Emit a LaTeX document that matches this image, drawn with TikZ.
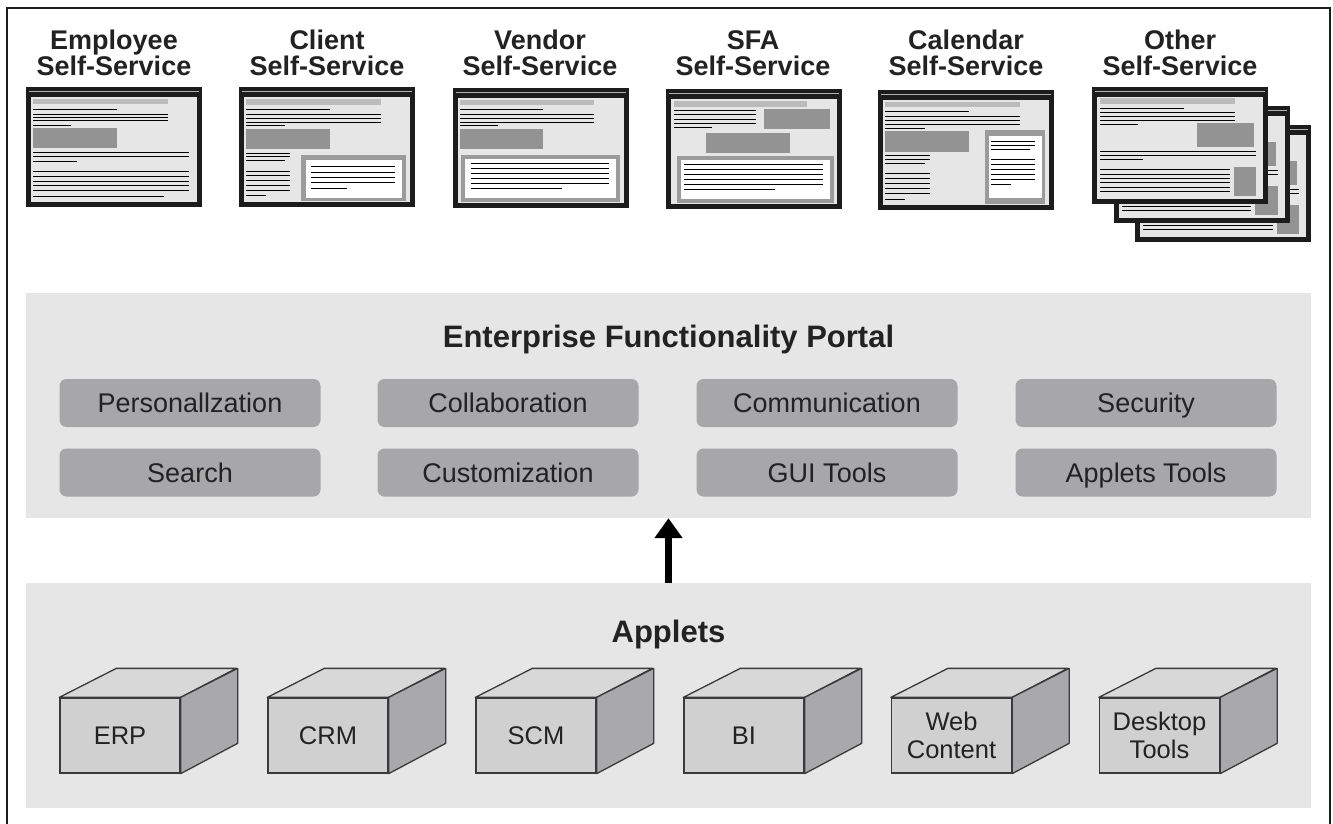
\documentclass[tikz,border=0pt]{standalone}
\usepackage{fontspec}
\setmainfont{Liberation Sans}
\usetikzlibrary{arrows.meta}

\definecolor{panel}{HTML}{E6E6E6}
\definecolor{itemgray}{HTML}{A7A7A9}
\definecolor{scrframe}{HTML}{1C1C1C}
\definecolor{scrin}{HTML}{E6E6E6}
\definecolor{scrbar}{HTML}{BBBBBB}
\definecolor{scrblk}{HTML}{939393}
\definecolor{scrinset}{HTML}{9B9B9B}
\definecolor{cubefront}{HTML}{D0D0D0}
\definecolor{cubetop}{HTML}{D8D8D8}
\definecolor{cubeside}{HTML}{A9A9AB}
\definecolor{cubeedge}{HTML}{3A3A3A}
\definecolor{txt}{HTML}{222222}

\newcommand{\scrln}[3]{\draw[scrline] (#1,#2) -- (#3,#2);}
\newcommand{\scrbase}[1]{%
  \fill[scrframe] (0,0) rectangle (176,#1);
  \fill[scrin] (5,10) rectangle (171,#1-5);
  \draw[gray!60,line width=0.8pt] (3,4.5) -- (173,4.5);}
\newcommand{\otherscreen}{%
  \scrbase{117}
  \fill[scrbar] (8.3,11) rectangle (143.3,16.7);
  \scrln{8.3}{21}{91.6}
  \foreach \yy in {25.3,29.3,33.3} {\scrln{8.3}{\yy}{143.3}}
  \scrln{8.3}{37.7}{46}
  \fill[scrblk] (105,36) rectangle (162.3,60.3);
  \scrln{8.3}{64.3}{164} \scrln{8.3}{68.3}{164}
  \scrln{8.3}{72}{51}
  \foreach \yy in {82.7,87.1,91.5,95.9,100.3,104.7} {\scrln{8.3}{\yy}{137.7}}
  \fill[scrblk] (141.7,80) rectangle (164,109.3);}

\tikzset{
  scrline/.style={line width=0.9pt, black},
  toptitle/.style={font=\fontsize{27}{26}\selectfont\bfseries, text=txt, align=center, inner sep=0pt, anchor=south},
  bigtitle/.style={font=\fontsize{31}{31}\selectfont\bfseries, text=txt, inner sep=0pt, anchor=base},
  panelbox/.style={fill=panel, draw=none, minimum width=1285pt, minimum height=225pt, inner sep=0pt},
  itembox/.style={fill=itemgray, rounded corners=7pt, minimum width=261pt, minimum height=48pt,
    font=\fontsize{27}{27}\selectfont, text=txt, text height=19.5pt, text depth=0pt, inner sep=0pt},
  cubebox/.style={fill=cubefront, draw=cubeedge, line width=1.3pt, minimum width=120pt, minimum height=75pt,
    font=\fontsize{25.5}{28}\selectfont, text=txt, align=center, inner sep=0pt},
  cubetopface/.style={fill=cubetop, draw=cubeedge, line width=1.3pt, line join=round},
  cubesideface/.style={fill=cubeside, draw=cubeedge, line width=1.3pt, line join=round},
  uparrow/.style={line width=7pt, -{Triangle[width=27pt,length=20pt]}, black}
}

\newcommand{\cube}[3]{% name, center x, text
  \node[cubebox] (#1) at (#2,735.5) {#3};
  \filldraw[cubetopface] (#1.north west) -- ++(57,-29) -- ++(120,0) -- (#1.north east) -- cycle;
  \filldraw[cubesideface] (#1.north east) -- ++(57,-29) -- ++(0,75) -- (#1.south east) -- cycle;}

\begin{document}
\begin{tikzpicture}[x=1pt,y=-1pt]
\useasboundingbox (0,0) rectangle (1333,824);
\fill[white] (0,0) rectangle (1333,824);
\draw[line width=2pt, scrframe] (7,830) -- (7,8) -- (1330,8) -- (1330,830);

% ---------- top titles ----------
\node[toptitle] (t1) at (114,76) {Employee\\Self-Service};
\node[toptitle] (t2) at (327,76) {Client\\Self-Service};
\node[toptitle] (t3) at (540,76) {Vendor\\Self-Service};
\node[toptitle] (t4) at (753,76) {SFA\\Self-Service};
\node[toptitle] (t5) at (966,76) {Calendar\\Self-Service};
\node[toptitle] (t6) at (1180,76) {Other\\Self-Service};

% ---------- Employee screen ----------
\begin{scope}[shift={(26,87)}]
  \scrbase{120}
  \fill[scrbar] (7,12) rectangle (142,17);
  \scrln{7}{22.3}{91}
  \foreach \yy in {27.3,30.5,33.7} {\scrln{7}{\yy}{142}}
  \scrln{7}{38}{45}
  \fill[scrblk] (7,41.3) rectangle (91,60.7);
  \scrln{7}{65.3}{163} \scrln{7}{69}{163}
  \scrln{7}{74}{51}
  \foreach \yy in {84,89,94,98.5,103} {\scrln{7}{\yy}{163}}
  \scrln{7}{109}{138}
\end{scope}

% ---------- Client screen ----------
\begin{scope}[shift={(239,87)}]
  \scrbase{120}
  \fill[scrbar] (7,12) rectangle (142,18);
  \scrln{7}{22}{91}
  \foreach \yy in {27,31,35.4} {\scrln{7}{\yy}{142}}
  \scrln{7}{38.7}{45.7}
  \fill[scrblk] (7,42) rectangle (91.4,62);
  \scrln{7}{66}{50.7} \scrln{7}{69.3}{50.7} \scrln{7}{73.7}{45.7}
  \foreach \yy in {84.3,88.7,93.7,98.7,103.3} {\scrln{7}{\yy}{50.7}}
  \scrln{7}{108.7}{27.3}
  \fill[scrinset] (62.4,68.3) rectangle (167.4,114.3);
  \fill[white] (66.7,72.7) rectangle (163,111);
  \foreach \yy in {79.3,85,90.3,95.3} {\scrln{72}{\yy}{155.7}}
  \scrln{72}{101}{108.3}
\end{scope}

% ---------- Vendor screen ----------
\begin{scope}[shift={(453,88)}]
  \scrbase{120}
  \fill[scrbar] (7,11.7) rectangle (141.3,16.7);
  \scrln{7}{21}{89.7}
  \foreach \yy in {26,30,34.4} {\scrln{7}{\yy}{141}}
  \scrln{7}{37.7}{44.7}
  \fill[scrblk] (7,41) rectangle (89.7,61);
  \fill[scrinset] (7.7,66.7) rectangle (167,114);
  \fill[white] (12,71) rectangle (162.7,110);
  \foreach \yy in {75,80,85,90,95} {\scrln{17.7}{\yy}{156.3}}
  \scrln{17.7}{100}{109.3}
\end{scope}

% ---------- SFA screen ----------
\begin{scope}[shift={(666,89)}]
  \scrbase{120}
  \fill[scrbar] (7.6,11.7) rectangle (141,18.3);
  \foreach \yy in {21,25.3,30,34.3} {\scrln{7.6}{\yy}{90.3}}
  \scrln{7.6}{38.3}{46}
  \fill[scrblk] (97.7,20) rectangle (164.3,40);
  \fill[scrblk] (40.3,43.7) rectangle (123.7,63.7);
  \fill[scrinset] (11,67) rectangle (167.7,114.3);
  \fill[white] (15,71) rectangle (163.7,110.3);
  \foreach \yy in {75.3,80.3,85.3,90.3,95.3} {\scrln{18.3}{\yy}{157}}
  \scrln{18.3}{100.3}{108.6}
\end{scope}

% ---------- Calendar screen ----------
\begin{scope}[shift={(878,90)}]
  \scrbase{120}
  \fill[scrbar] (6.7,11.7) rectangle (141.7,17.3);
  \scrln{6.7}{21.7}{91}
  \foreach \yy in {26.7,30.7,34.3} {\scrln{6.7}{\yy}{142}}
  \scrln{6.7}{38.3}{46.7}
  \fill[scrblk] (6.7,40.7) rectangle (91,61.7);
  \scrln{6.7}{65}{51.7} \scrln{6.7}{69}{51.7} \scrln{6.7}{73}{46.7}
  \foreach \yy in {83.3,88.3,93.3,98.3,103.3} {\scrln{6.7}{\yy}{51.7}}
  \scrln{6.7}{109}{26.7}
  \fill[scrinset] (106.7,40) rectangle (166.7,114);
  \fill[white] (111,45.7) rectangle (164,108.3);
  \scrln{113.3}{51.7}{157.3} \scrln{113.3}{55}{157.3} \scrln{113.3}{59}{151.7}
  \foreach \yy in {69.3,74,79.3,84,89.3} {\scrln{113.3}{\yy}{157.3}}
  \scrln{113.3}{94.3}{132.7}
\end{scope}

% ---------- Other screens (stack) ----------
\begin{scope}[shift={(1135,125)}] \otherscreen \end{scope}
\begin{scope}[shift={(1113.5,106)}] \otherscreen \end{scope}
\begin{scope}[shift={(1092,87)}] \otherscreen \end{scope}

% ---------- Portal ----------
\node[panelbox] (portal) at (668.5,405.5) {};
\node[bigtitle] (portaltitle) at (668.5,347) {Enterprise Functionality Portal};
\node[itembox] (pers)   at (190,403)    {Personallzation};
\node[itembox] (collab) at (508,403)    {Collaboration};
\node[itembox] (comm)   at (827,403)    {Communication};
\node[itembox] (sec)    at (1146,403)   {Security};
\node[itembox] (search) at (190,472.5)  {Search};
\node[itembox] (cust)   at (508,472.5)  {Customization};
\node[itembox] (gui)    at (827,472.5)  {GUI Tools};
\node[itembox] (aptool) at (1146,472.5) {Applets Tools};

% ---------- Applets ----------
\node[panelbox] (applets) at (668.5,695.5) {};
\node[bigtitle] (appletstitle) at (668.5,642) {Applets};

\cube{erp}{120}{ERP}
\cube{crm}{328}{CRM}
\cube{scm}{536}{SCM}
\cube{bi}{744}{BI}
\cube{web}{951.5}{Web\\Content}
\cube{desk}{1159.5}{Desktop\\Tools}

% ---------- arrow ----------
\draw[uparrow] (applets.north) -- (portal.south);
\end{tikzpicture}
\end{document}
